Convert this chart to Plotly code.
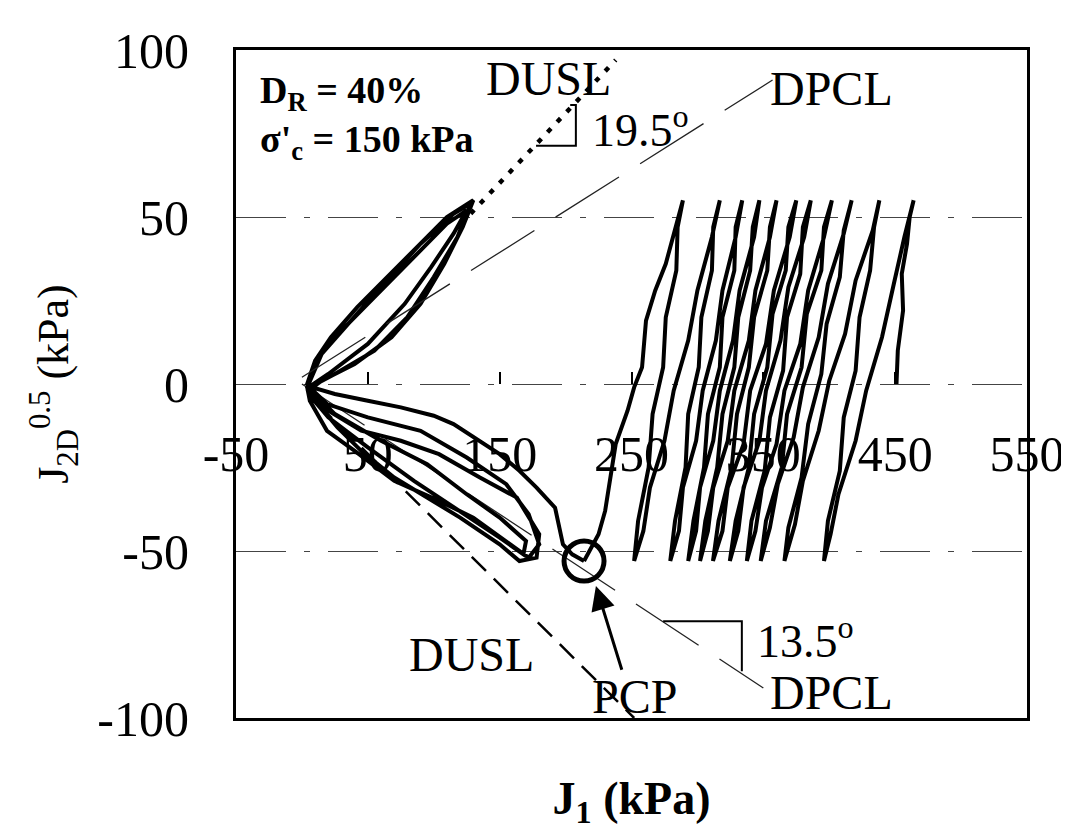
import plotly.graph_objects as go

# ---------------- data ----------------
# Cyclic stress path, band part: from the initial state (J1 ~ 450) to the PCP
band_j1 = [451, 452, 456, 455, 459, 461, 464,
           457, 449, 440, 428, 420, 407, 401, 396,
           399, 408, 411, 420, 423, 431, 434, 438,
           433, 420, 412, 400, 392, 380, 374, 366,
           369, 379, 384, 394, 398, 408, 411, 417,
           411, 399, 392, 380, 373, 361, 355, 348,
           352, 364, 368, 379, 383, 394, 396, 402,
           396, 384, 378, 366, 360, 349, 344, 337.5,
           341, 351, 355, 365, 368, 378, 380, 386,
           381, 369, 363, 352, 347, 335, 331, 324.6,
           329, 339, 343, 353, 357, 367, 369, 375,
           370, 358, 352, 340, 335, 323, 319, 311.8,
           316, 326, 330, 339, 343, 353, 355, 360,
           355, 344, 339, 328, 323, 312, 308, 302,
           306, 315, 319, 328, 331, 340, 342, 347,
           343, 332, 327, 317, 312, 302, 299, 293,
           297, 305, 308, 317, 319, 328, 329, 334,
           329, 319, 314, 304, 299, 289, 286, 279.4,
           283, 291, 293, 301, 303, 311, 312, 317,
           311, 300, 293, 282, 275, 264, 259, 252,
           255, 263, 266, 274, 276, 284, 285, 289,
           287, 281, 276, 268, 261, 258, 252, 247, 238, 230, 225, 214]
band_q = [0, 10, 22, 33, 42, 50, 55,
          44, 30, 14, -2, -17, -33, -45, -53,
          -41, -26, -10, 4, 20, 34, 47, 55,
          46, 31, 15, 1, -14, -29, -42, -53,
          -43, -28, -12, 3, 18, 32, 46, 55,
          45, 30, 14, -1, -16, -30, -43, -53,
          -41, -25, -9, 5, 21, 34, 47, 55,
          44, 28, 12, -2, -18, -31, -44, -53,
          -41, -26, -10, 4, 20, 33, 47, 55,
          44, 29, 13, -2, -17, -31, -44, -53,
          -41, -25, -9, 5, 21, 34, 47, 55,
          44, 28, 12, -2, -18, -31, -44, -53,
          -41, -25, -9, 5, 20, 34, 47, 55,
          44, 28, 13, -2, -17, -31, -44, -53,
          -41, -25, -9, 5, 20, 34, 47, 55,
          44, 28, 13, -2, -17, -31, -44, -53,
          -41, -25, -9, 5, 20, 34, 47, 55,
          44, 28, 13, -2, -17, -31, -44, -53,
          -41, -25, -9, 5, 20, 34, 47, 55,
          44, 28, 13, -2, -17, -31, -44, -53,
          -41, -25, -9, 5, 20, 34, 47, 55,
          52, 44, 36, 28, 19, 5, -1, -8, -18, -38, -45, -53]

# Butterfly loops after the PCP
lobe_j1 = [214, 205, 198, 195, 192, 178, 165, 150, 135, 115, 100, 75, 50, 25, 8, 4,
           10, 22, 42, 65, 88, 110, 130, 122, 108, 90, 68, 40, 15, 5,
           20, 45, 75, 104, 135, 163, 180, 178, 165, 150, 120, 90, 70, 45, 27, 8, 4,
           15, 35, 62, 90, 115, 128, 118, 100, 80, 55, 25, 6,
           19, 50, 90, 125, 155, 172, 180, 172, 158, 130, 104, 70, 40, 19, 6, 4,
           12, 30, 55, 85, 110, 125, 115, 98, 78, 50, 20, 5,
           25, 60, 95, 125, 150, 170, 168, 150, 120, 85, 50, 20, 5]
lobe_q = [-53, -51, -48, -43, -37, -31, -26, -21, -17, -12, -9.5, -7, -5, -3, -1, 0,
          7, 14, 23, 32, 41, 50, 55, 47, 36, 24, 14, 6, 1, -2,
          -8, -14, -17, -21, -28, -34, -45, -52, -53, -48, -40, -33, -28, -20, -13, -4, -1,
          9, 18, 30, 42, 51, 54, 44, 32, 20, 10, 3, -1,
          -6, -10, -14, -22, -30, -39, -48, -52, -48, -40, -35, -29, -20, -14, -5, -1,
          8, 16, 26, 38, 48, 52, 45, 35, 24, 12, 3, -1,
          -9, -17, -24, -33, -40, -47, -51, -46, -38, -29, -19, -10, -3]

# Reference lines
dpcl_up_j1, dpcl_up_q = [0, 357], [2, 91]
dpcl_lo_j1, dpcl_lo_q = [0, 350], [0, -91]
dusl_up_j1, dusl_up_q = [128, 238], [51, 97]
dusl_lo_j1, dusl_lo_q = [12, 252], [-6, -100]

# Phase change point
pcp_j1, pcp_q = [214], [-53]

# Angle markers
ang19_j1, ang19_q = [177.6, 207.8, 207.8, 203.5], [71.3, 71.3, 83.5, 83.5]
ang13_j1, ang13_q = [274, 333.7, 333.7], [-71, -71, -86]

# Axis ticks
x_ticks = [-50, 50, 150, 250, 350, 450, 550]
x_ticktext = ["-50", "50", "150", "250", "350", "450", "550"]
y_ticks = [-100, -50, 0, 50, 100]
y_ticktext = ["-100", "-50", "0", "50", "100"]

FONT = "Liberation Serif"

fig = go.Figure()

line_dash_pcl = "75px,25px"
fig.add_trace(go.Scatter(x=dpcl_up_j1, y=dpcl_up_q, mode="lines", xaxis="x2",
                         line=dict(color="#222", width=1.3, dash=line_dash_pcl), hoverinfo="skip"))
fig.add_trace(go.Scatter(x=dpcl_lo_j1, y=dpcl_lo_q, mode="lines",
                         line=dict(color="#222", width=1.3, dash=line_dash_pcl), hoverinfo="skip"))
fig.add_trace(go.Scatter(x=dusl_up_j1, y=dusl_up_q, mode="lines",
                         line=dict(color="black", width=4.5, dash="5px,9px"), hoverinfo="skip"))
fig.add_trace(go.Scatter(x=dusl_lo_j1, y=dusl_lo_q, mode="lines",
                         line=dict(color="black", width=2.5, dash="20px,11px"), hoverinfo="skip"))
fig.add_trace(go.Scatter(x=band_j1, y=band_q, mode="lines",
                         line=dict(color="black", width=4), hoverinfo="skip"))
fig.add_trace(go.Scatter(x=lobe_j1, y=lobe_q, mode="lines",
                         line=dict(color="black", width=4), hoverinfo="skip"))
fig.add_trace(go.Scatter(x=ang19_j1, y=ang19_q, mode="lines",
                         line=dict(color="black", width=2), hoverinfo="skip"))
fig.add_trace(go.Scatter(x=ang13_j1, y=ang13_q, mode="lines",
                         line=dict(color="black", width=2), hoverinfo="skip"))
fig.add_trace(go.Scatter(x=pcp_j1, y=pcp_q, mode="markers",
                         marker=dict(symbol="circle-open", size=40, color="black",
                                     line=dict(width=5, color="black")), hoverinfo="skip"))

ann_font = dict(family=FONT, size=48, color="black")
annotations = [
    dict(x=187, y=91.5, text="DUSL", font=ann_font),
    dict(x=402, y=88.5, text="DPCL", font=ann_font),
    dict(x=257, y=77, text="19.5<sup>o</sup>", font=dict(family=FONT, size=46, color="black")),
    dict(x=128.5, y=-81, text="DUSL", font=ann_font),
    dict(x=382, y=-76, text="13.5<sup>o</sup>", font=dict(family=FONT, size=46, color="black")),
    dict(x=402, y=-92.5, text="DPCL", font=ann_font),
    dict(x=252, y=-93.5, text="PCP", font=ann_font),
    dict(x=-33.5, y=87, text="<b>D<sub>R</sub> = 40%</b>", xanchor="left",
         font=dict(family=FONT, size=38, color="black")),
    dict(x=-33.5, y=72.5, text="<b>σ'<sub>c</sub> = 150 kPa</b>", xanchor="left",
         font=dict(family=FONT, size=38, color="black")),
]
for a in annotations:
    a.setdefault("xanchor", "center")
    a.update(xref="x", yref="y", yanchor="middle", showarrow=False)
# arrow to PCP
annotations.append(dict(x=223, y=-60.5, ax=243, ay=-86, xref="x", yref="y",
                        axref="x", ayref="y", text="", showarrow=True,
                        arrowhead=2, arrowsize=1.6, arrowwidth=3, arrowcolor="black"))

fig.update_layout(
    width=1069, height=839,
    margin=dict(l=228, r=45, t=42, b=129),
    paper_bgcolor="white", plot_bgcolor="white",
    showlegend=False,
    font=dict(family=FONT, color="black"),
    annotations=annotations,
    xaxis=dict(range=[-50, 550], showline=True, mirror=True, linewidth=3, linecolor="black",
               showgrid=False, zeroline=False, showticklabels=False, ticks="",
               title=dict(text="<b>J<sub>1</sub> (kPa)</b>", font=dict(family=FONT, size=46),
                          standoff=62)),
    xaxis2=dict(range=[-50, 550], overlaying="x", anchor="free", position=0.5,
                tickmode="array", tickvals=x_ticks, ticktext=x_ticktext,
                ticks="inside", ticklen=12, tickwidth=1.5, tickcolor="black",
                showline=False, showgrid=False, zeroline=False,
                tickfont=dict(family=FONT, size=50), ticklabelstandoff=36),
    yaxis=dict(range=[-100, 100], tickmode="array", tickvals=y_ticks, ticktext=y_ticktext,
               showline=True, mirror=True, linewidth=3, linecolor="black",
               showgrid=True, gridcolor="#444", gridwidth=1.3, griddash="50px,18px,6px,18px",
               zeroline=False, ticks="", tickfont=dict(family=FONT, size=50),
               ticklabelstandoff=34,
               title=dict(text="J<sub>2D</sub><sup>0.5</sup> (kPa)",
                          font=dict(family=FONT, size=44), standoff=15)),
)

fig.write_html("out.html")
